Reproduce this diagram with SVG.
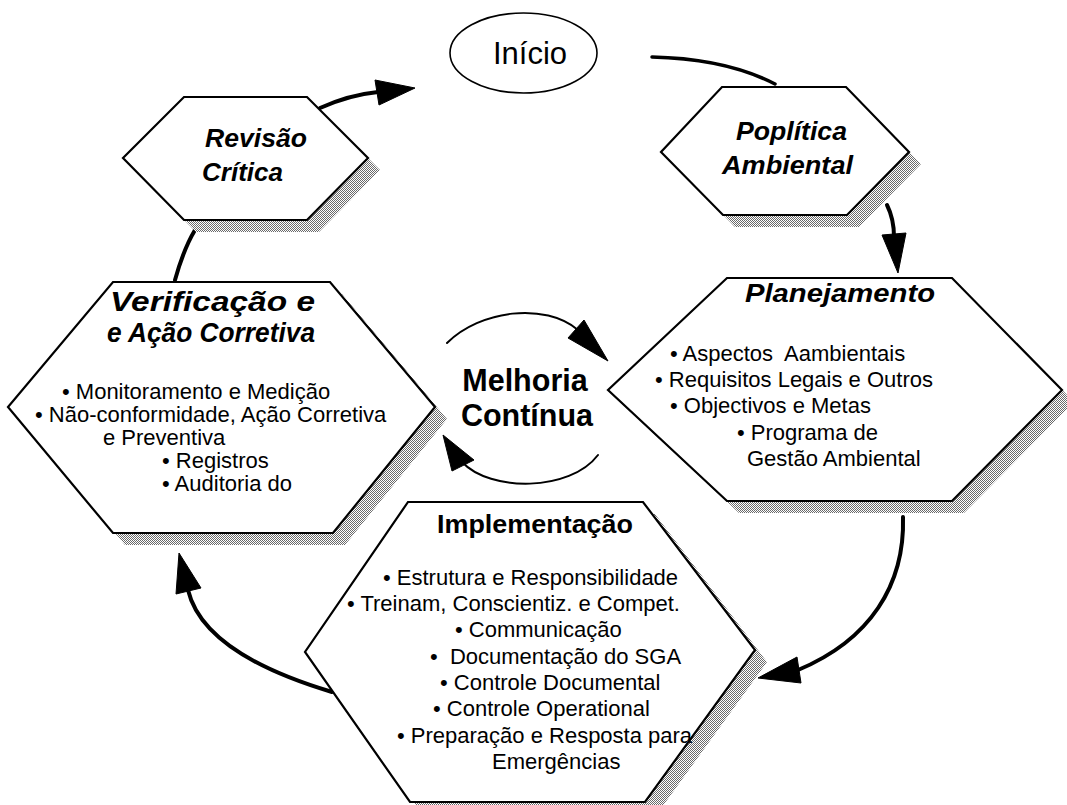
<svg xmlns="http://www.w3.org/2000/svg" width="1067" height="805" viewBox="0 0 1067 805">
  <defs>
    <!-- halftone stipple used for the drop shadows -->
    <pattern id="stipple" width="2" height="2" patternUnits="userSpaceOnUse">
      <rect width="2" height="2" fill="#fff"/>
      <rect x="0" y="0" width="1" height="1" fill="#6a6a6a"/>
      <rect x="1" y="1" width="1" height="1" fill="#6a6a6a"/>
    </pattern>
    <style>
      .hex { fill: #fff; stroke: #000; stroke-width: 2.2; stroke-linejoin: miter; }
      .shadow { fill: url(#stipple); stroke: none; }
      .oval { fill: #fff; stroke: #000; stroke-width: 1.6; }
      .title { font-family: "Liberation Sans", Arial, sans-serif; font-weight: bold; font-style: italic; font-size: 26px; fill: #000; }
      .title-big { font-size: 28px; }
      .title-up { font-family: "Liberation Sans", Arial, sans-serif; font-weight: bold; font-size: 26px; fill: #000; }
      .body { font-family: "Liberation Sans", Arial, sans-serif; font-size: 22px; fill: #000; }
      .center { font-family: "Liberation Sans", Arial, sans-serif; font-weight: bold; font-size: 30.5px; fill: #000; text-anchor: middle; }
      .start { font-family: "Liberation Sans", Arial, sans-serif; font-size: 31px; fill: #000; text-anchor: middle; }
      .flow { fill: none; stroke: #000; stroke-width: 4; stroke-linecap: round; }
      .loop { fill: none; stroke: #000; stroke-width: 2; stroke-linecap: round; }
      .head { fill: #000; stroke: #000; stroke-width: 1; stroke-linejoin: miter; }
    </style>
  </defs>

  <rect width="1067" height="805" fill="#fff"/>

  <!-- connectors -->
  <g id="connectors">
    <!-- Revisão Crítica to Início -->
    <path class="flow" d="M 320,108 C 340,99 358,94 378,92"/>
    <polygon class="head" points="415,88 375,80 379,105"/>
    <!-- Início to Política Ambiental -->
    <path class="flow" d="M 652,57 C 700,58 740,66 775,84" style="stroke-width:3.5"/>
    <!-- Política Ambiental to Planejamento -->
    <path class="flow" d="M 887,205 C 892,215 894,225 894,237"/>
    <polygon class="head" points="898,273 882,235 906,233"/>
    <!-- Planejamento to Implementação -->
    <path class="flow" d="M 903,517 C 905,585 870,640 798,670"/>
    <polygon class="head" points="758,678 797,657 801,683"/>
    <!-- Implementação to Verificação -->
    <path class="flow" d="M 332,692 C 265,672 200,640 188,590"/>
    <polygon class="head" points="179,553 176,594 201,588"/>
    <!-- Verificação to Revisão Crítica -->
    <path class="flow" d="M 175,280 C 180,262 186,245 195,230"/>
    <!-- continual improvement loop -->
    <path class="loop" d="M 447,343 C 480,310 545,302 578,330"/>
    <polygon class="head" points="608,361 584,320 568,338"/>
    <path class="loop" d="M 598,455 C 570,492 490,492 462,462"/>
    <polygon class="head" points="443,435 452,471 474,460"/>
  </g>

  <!-- Início -->
  <g id="inicio">
    <ellipse class="oval" cx="523.5" cy="53" rx="73.5" ry="40"/>
    <text class="start" x="530" y="64">Início</text>
  </g>

  <!-- Revisão Crítica -->
  <g id="revisao">
    <polygon class="shadow" points="196,109 319,109 380,170 319,232 196,232 135,170"/>
    <polygon class="hex" points="184,97 307,97 368,158 307,220 184,220 123,158"/>
    <text class="title" x="205" y="147" textLength="102" lengthAdjust="spacingAndGlyphs">Revisão</text>
    <text class="title" x="202" y="181" textLength="81" lengthAdjust="spacingAndGlyphs">Crítica</text>
  </g>

  <!-- Política Ambiental -->
  <g id="politica">
    <polygon class="shadow" points="734,99 858,99 921,164 859,227 735,227 673,164"/>
    <polygon class="hex" points="722,87 846,87 909,152 847,215 723,215 661,152"/>
    <text class="title" x="736" y="140" textLength="111" lengthAdjust="spacingAndGlyphs">Poplítica</text>
    <text class="title" x="722" y="174" textLength="131" lengthAdjust="spacingAndGlyphs">Ambiental</text>
  </g>

  <!-- Verificação e Ação Corretiva -->
  <g id="verificacao">
    <polygon class="shadow" points="125,294 342,294 447,419 345,545 125,545 20,419"/>
    <polygon class="hex" points="113,282 330,282 435,407 333,533 113,533 8,407"/>
    <text class="title title-big" x="110" y="311" textLength="205" lengthAdjust="spacingAndGlyphs">Verificação e</text>
    <text class="title title-big" x="107" y="342" textLength="208" lengthAdjust="spacingAndGlyphs">e Ação Corretiva</text>
    <text class="body" x="62" y="399">• Monitoramento e Medição</text>
    <text class="body" x="35" y="422">• Não-conformidade, Ação Corretiva</text>
    <text class="body" x="103" y="445">e Preventiva</text>
    <text class="body" x="162" y="468">• Registros</text>
    <text class="body" x="162" y="491">• Auditoria do</text>
  </g>

  <!-- Planejamento -->
  <g id="planejamento">
    <polygon class="shadow" points="739,290 964,290 1074,402 964,513 739,513 620,402"/>
    <polygon class="hex" points="727,278 952,278 1062,390 952,501 727,501 608,390"/>
    <text class="title" x="745" y="302" textLength="190" lengthAdjust="spacingAndGlyphs">Planejamento</text>
    <text class="body" x="670" y="361" xml:space="preserve">• Aspectos  Aambientais</text>
    <text class="body" x="655" y="387">• Requisitos Legais e Outros</text>
    <text class="body" x="670" y="413">• Objectivos e Metas</text>
    <text class="body" x="737" y="440">• Programa de</text>
    <text class="body" x="747" y="466">Gestão Ambiental</text>
  </g>

  <!-- Implementação -->
  <g id="implementacao">
    <polygon class="shadow" points="420,514 655,514 767,662 657,814 422,814 317,664"/>
    <polygon class="hex" points="408,502 643,502 755,650 645,802 410,802 305,652"/>
    <text class="title-up" x="437" y="533" textLength="196" lengthAdjust="spacingAndGlyphs">Implementação</text>
    <text class="body" x="383" y="585">• Estrutura e Responsibilidade</text>
    <text class="body" x="347" y="611">• Treinam, Conscientiz. e Compet.</text>
    <text class="body" x="455" y="637">• Communicação</text>
    <text class="body" x="430" y="664" xml:space="preserve">•  Documentação do SGA</text>
    <text class="body" x="440" y="690">• Controle Documental</text>
    <text class="body" x="433" y="716">• Controle Operational</text>
    <text class="body" x="397" y="743">• Preparação e Resposta para</text>
    <text class="body" x="492" y="769">Emergências</text>
  </g>

  <!-- Melhoria Contínua -->
  <g id="melhoria">
    <text class="center" x="525" y="391">Melhoria</text>
    <text class="center" x="527" y="426">Contínua</text>
  </g>
</svg>
